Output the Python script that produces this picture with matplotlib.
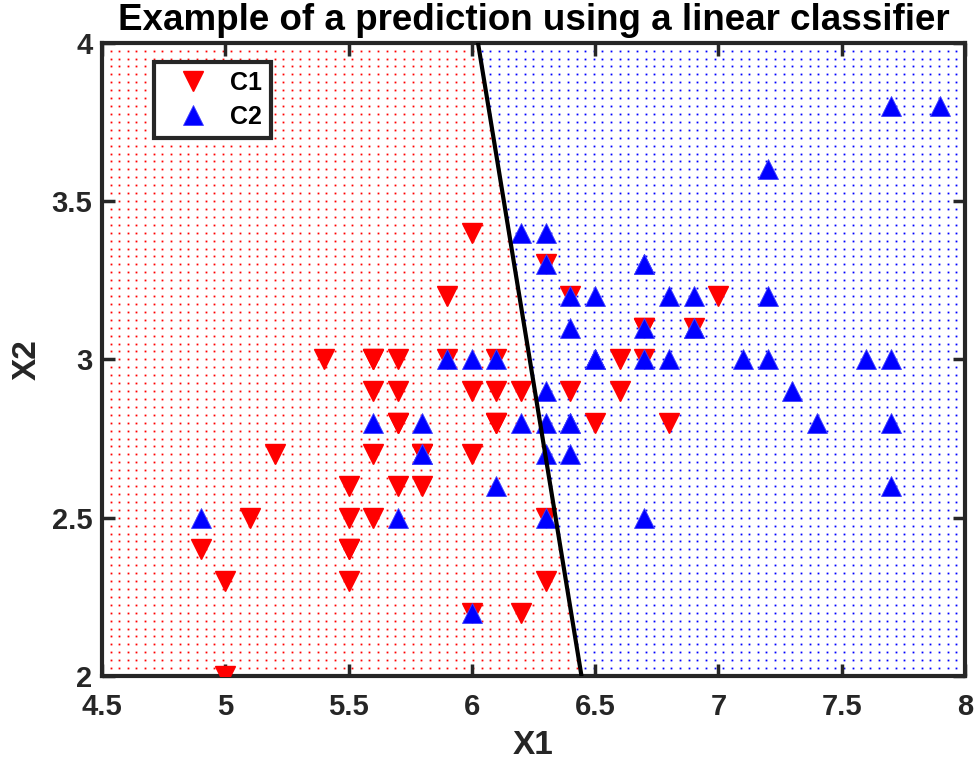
import numpy as np
import matplotlib
matplotlib.use("Agg")
import matplotlib.pyplot as plt

# Class C1 (sepal length, sepal width)
c1_x1 = [7.0, 6.4, 6.9, 5.5, 6.5, 5.7, 6.3, 4.9, 6.6, 5.2, 5.0, 5.9, 6.0, 6.1, 5.6,
         6.7, 5.6, 5.8, 6.2, 5.6, 5.9, 6.1, 6.3, 6.1, 6.4, 6.6, 6.8, 6.7, 6.0, 5.7,
         5.5, 5.5, 5.8, 6.0, 5.4, 6.0, 6.7, 6.3, 5.6, 5.5, 5.5, 6.1, 5.8, 5.0, 5.6,
         5.7, 5.7, 6.2, 5.1, 5.7]
c1_x2 = [3.2, 3.2, 3.1, 2.3, 2.8, 2.8, 3.3, 2.4, 2.9, 2.7, 2.0, 3.0, 2.2, 2.9, 2.9,
         3.1, 3.0, 2.7, 2.2, 2.5, 3.2, 2.8, 2.5, 2.8, 2.9, 3.0, 2.8, 3.0, 2.9, 2.6,
         2.4, 2.4, 2.7, 2.7, 3.0, 3.4, 3.1, 2.3, 3.0, 2.5, 2.6, 3.0, 2.6, 2.3, 2.7,
         3.0, 2.9, 2.9, 2.5, 2.8]
# Class C2
c2_x1 = [6.3, 5.8, 7.1, 6.3, 6.5, 7.6, 4.9, 7.3, 6.7, 7.2, 6.5, 6.4, 6.8, 5.7, 5.8,
         6.4, 6.5, 7.7, 7.7, 6.0, 6.9, 5.6, 7.7, 6.3, 6.7, 7.2, 6.2, 6.1, 6.4, 7.2,
         7.4, 7.9, 6.4, 6.3, 6.1, 7.7, 6.3, 6.4, 6.0, 6.9, 6.7, 6.9, 5.8, 6.8, 6.7,
         6.7, 6.3, 6.5, 6.2, 5.9]
c2_x2 = [3.3, 2.7, 3.0, 2.9, 3.0, 3.0, 2.5, 2.9, 2.5, 3.6, 3.2, 2.7, 3.0, 2.5, 2.8,
         3.2, 3.0, 3.8, 2.6, 2.2, 3.2, 2.8, 2.8, 2.7, 3.3, 3.2, 2.8, 3.0, 2.8, 3.0,
         2.8, 3.8, 2.8, 2.8, 2.6, 3.0, 3.4, 3.1, 3.0, 3.1, 3.1, 3.1, 2.7, 3.2, 3.3,
         3.0, 2.5, 3.0, 3.4, 3.0]

# Linear classifier: w1*x1 + w2*x2 + b = 0
w = [1.0, 0.21]
b = -6.865

x_ticks = [4.5, 5, 5.5, 6, 6.5, 7, 7.5, 8]
y_ticks = [2, 2.5, 3, 3.5, 4]
x_tick_labels = ["4.5", "5", "5.5", "6", "6.5", "7", "7.5", "8"]
y_tick_labels = ["2", "2.5", "3", "3.5", "4"]

plt.rcParams['font.family'] = ['Liberation Sans', 'DejaVu Sans']
plt.rcParams['font.weight'] = 'bold'

fig = plt.figure(figsize=(9.75, 7.65), dpi=100)
ax = fig.add_axes([0.1046, 0.1163, 0.885, 0.8279])

xmin, xmax, ymin, ymax = 4.5, 8.0, 2.0, 4.0
gx = np.linspace(xmin, xmax, 101)
gy = np.linspace(ymin, ymax, 81)
GX, GY = np.meshgrid(gx, gy)
score = w[0] * GX + w[1] * GY + b
m1 = score < 0
ax.plot(GX[m1], GY[m1], linestyle='none', marker='s', ms=1.3, mew=0, color='red', zorder=1)
ax.plot(GX[~m1], GY[~m1], linestyle='none', marker='s', ms=1.3, mew=0, color='blue', zorder=1)

ax.plot(c1_x1, c1_x2, linestyle='none', marker='v', ms=15, color='red', mec='red',
        label='C1', zorder=3)
ax.plot(c2_x1, c2_x2, linestyle='none', marker='^', ms=15, color='blue', mec='#4040ff',
        mew=0.6, label='C2', zorder=4)

ly = np.array([ymin, ymax])
lx = -(w[1] * ly + b) / w[0]
ax.plot(lx, ly, color='black', lw=3, zorder=5)

ax.set_xlim(xmin, xmax)
ax.set_ylim(ymin, ymax)
ax.set_xticks(x_ticks)
ax.set_xticklabels(x_tick_labels)
ax.set_yticks(y_ticks)
ax.set_yticklabels(y_tick_labels)
ax.tick_params(direction='in', length=9, width=2.5, top=True, right=True,
               labelsize=21, colors='#262626')
ax.tick_params(axis='x', pad=12)
ax.tick_params(axis='y', pad=7)
for lab in ax.get_xticklabels() + ax.get_yticklabels():
    lab.set_fontweight('bold')
    lab.set_color('#262626')
for s in ax.spines.values():
    s.set_linewidth(3)
    s.set_color('#262626')

ax.set_title('Example of a prediction using a linear classifier', fontsize=26.5,
             fontweight='bold', pad=9)
ax.set_xlabel('X1', fontsize=24, fontweight='bold', color='#262626', labelpad=7)
ax.set_ylabel('X2', fontsize=24, fontweight='bold', color='#262626', labelpad=6)

leg = ax.legend(loc='upper left', bbox_to_anchor=(0.060, 0.9695), fontsize=18,
                frameon=True, fancybox=False, framealpha=1, edgecolor='#262626',
                handletextpad=0.25, borderpad=0.35, labelspacing=0.4, handlelength=2.45,
                borderaxespad=0)
leg.get_frame().set_linewidth(3)
for t in leg.get_texts():
    t.set_fontweight('bold')

fig.savefig('out.png', dpi=100)
